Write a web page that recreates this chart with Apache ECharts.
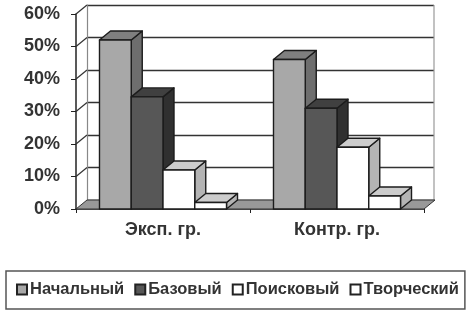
<!DOCTYPE html>
<html><head><meta charset="utf-8">
<style>html,body{margin:0;padding:0;background:#fff}#c{width:468px;height:318px;filter:blur(0.35px)}</style>
<script src="https://cdn.jsdelivr.net/npm/echarts@6/dist/echarts.min.js"></script>
</head><body><div id="c"></div>
<script>
const categories = ['Эксп. гр.', 'Контр. гр.'];
const seriesNames = ['Начальный', 'Базовый', 'Поисковый', 'Творческий'];
const nachalny = [52, 46];
const bazovy = [34.5, 31];
const poiskovy = [12, 19];
const tvorchesky = [2, 4];
const allValues = [nachalny, bazovy, poiskovy, tvorchesky];
const palette = [
  {front:'#a8a8a8', top:'#7f7f7f', side:'#6e6e6e'},
  {front:'#575757', top:'#404040', side:'#303030'},
  {front:'#ffffff', top:'#cccccc', side:'#b4b4b4'},
  {front:'#ffffff', top:'#cccccc', side:'#b4b4b4'}
];
const DX = 11, DY = -9;
const FONT = '"Liberation Sans", Arial, sans-serif';
const chart = echarts.init(document.getElementById('c'), null, {renderer:'canvas'});

function barSeries(idx){
  const c = palette[idx];
  return {
    name: seriesNames[idx], type:'custom', xAxisIndex:0, yAxisIndex:0, z:5+idx,
    itemStyle:{color:c.front, borderColor:'#222', borderWidth:1.5},
    data: categories.map((_,i)=>[i, allValues[idx][i]]),
    renderItem(params, api){
      const base = api.coord([api.value(0), 0]);
      const top = api.coord([api.value(0), api.value(1)]);
      const w = api.size([1,0])[0]*0.1825;
      const x0 = base[0] + (idx-2)*w, x1 = x0+w, y0 = top[1], y1 = base[1];
      const st = f => ({fill:f, stroke:'#1c1c1c', lineWidth:1.4, lineJoin:'round'});
      return {type:'group', children:[
        {type:'polygon', shape:{points:[[x1,y1],[x1+DX,y1+DY],[x1+DX,y0+DY],[x1,y0]]}, style:st(c.side)},
        {type:'polygon', shape:{points:[[x0,y0],[x0+DX,y0+DY],[x1+DX,y0+DY],[x1,y0]]}, style:st(c.top)},
        {type:'rect', shape:{x:x0,y:y0,width:w,height:y1-y0}, style:st(c.front)}
      ]};
    }
  };
}
const floorSeries = {
  type:'custom', xAxisIndex:0, yAxisIndex:0, z:2, silent:true,
  data:[[0,0]],
  renderItem(params, api){
    const a = api.coord([0,0]);
    const s = params.coordSys;
    const l = s.x, r = s.x+s.width, b = a[1];
    const kids = [{type:'polygon', shape:{points:[[l,b],[l+DX,b+DY],[r+DX,b+DY],[r,b]]},
      style:{fill:'#999999', stroke:'#333', lineWidth:1}}];
    for (let v=10; v<=60; v+=10){
      const y = api.coord([0,v])[1];
      kids.push({type:'line', shape:{x1:l,y1:y,x2:l+DX,y2:y+DY}, style:{stroke:'#333', lineWidth:1.2}});
    }
    return {type:'group', children:kids};
  }
};
chart.setOption({
  animation:false, backgroundColor:'#fff',
  legend:{
    left:6, top:271, padding:[10,6,11,10], itemGap:10, itemWidth:10, itemHeight:10,
    data:seriesNames, borderColor:'#555', borderWidth:1.5, selectedMode:false,
    icon:'rect',
    textStyle:{fontFamily:FONT, fontWeight:'bold', fontSize:16.5, color:'#333', padding:[0,0,0,-2]}
  },
  grid:[
    {left:76, top:14, width:348, height:195},
    {left:87, top:5, width:347, height:195}
  ],
  xAxis:[
    {type:'category', gridIndex:0, data:categories, boundaryGap:true,
     axisLine:{lineStyle:{color:'#222', width:1.5}},
     axisTick:{show:true, length:4, lineStyle:{color:'#222'}},
     axisLabel:{fontFamily:FONT, fontWeight:'bold', fontSize:18, color:'#333', margin:12},
     splitLine:{show:false}},
    {type:'category', gridIndex:1, data:categories, show:false}
  ],
  yAxis:[
    {type:'value', gridIndex:0, min:0, max:60, interval:10,
     axisLine:{show:true, lineStyle:{color:'#222', width:1.5}},
     axisTick:{show:true, length:5, lineStyle:{color:'#222'}},
     axisLabel:{formatter:'{value}%', fontFamily:FONT, fontWeight:'bold', fontSize:18, color:'#333', margin:16},
     splitLine:{show:false}},
    {type:'value', gridIndex:1, min:0, max:60, interval:10,
     axisLine:{show:true, lineStyle:{color:'#888', width:1.2}},
     axisTick:{show:false}, axisLabel:{show:false},
     splitLine:{show:true, lineStyle:{color:'#333', width:1.3}}}
  ],
  series:[
    {type:'custom', xAxisIndex:1, yAxisIndex:1, z:1, silent:true, data:[[0,0]],
     renderItem(params, api){
       const s = params.coordSys;
       return {type:'line', shape:{x1:s.x+s.width,y1:s.y,x2:s.x+s.width,y2:s.y+s.height},
               style:{stroke:'#999', lineWidth:1.2}};
     }},
    floorSeries,
    barSeries(0), barSeries(1), barSeries(2), barSeries(3)
  ]
});
</script></body></html>
